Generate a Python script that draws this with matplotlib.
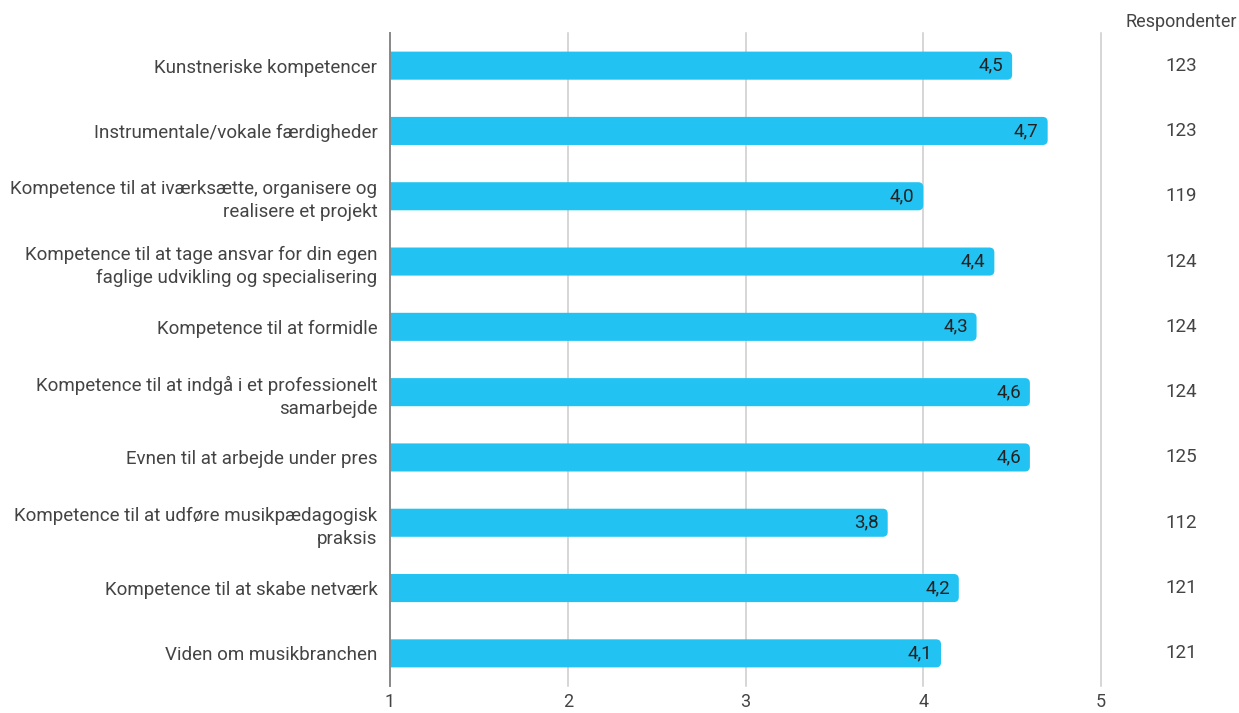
import matplotlib.pyplot as plt
from matplotlib.patches import FancyBboxPatch

plt.rcParams['font.family'] = ['Roboto', 'DejaVu Sans']

# Data
categories = [
    "Kunstneriske kompetencer",
    "Instrumentale/vokale færdigheder",
    "Kompetence til at iværksætte, organisere og\nrealisere et projekt",
    "Kompetence til at tage ansvar for din egen\nfaglige udvikling og specialisering",
    "Kompetence til at formidle",
    "Kompetence til at indgå i et professionelt\nsamarbejde",
    "Evnen til at arbejde under pres",
    "Kompetence til at udføre musikpædagogisk\npraksis",
    "Kompetence til at skabe netværk",
    "Viden om musikbranchen",
]
values = [4.5, 4.7, 4.0, 4.4, 4.3, 4.6, 4.6, 3.8, 4.2, 4.1]
respondents = [123, 123, 119, 124, 124, 124, 125, 112, 121, 121]
xticks = [1, 2, 3, 4, 5]

bar_col = '#22C3F2'
txt_col = '#444444'

fig = plt.figure(figsize=(12.39, 7.13), dpi=100)
ax = fig.add_axes([390/1239, 27/713, 711/1239, 653/713])

ax.set_xlim(1, 5)
ax.set_ylim(len(categories) - 0.5, -0.5)

h = 0.43
for i, (v, n) in enumerate(zip(values, respondents)):
    # rounded bar; start left of the axis so the left corners get clipped
    p = FancyBboxPatch((0.95, i - h/2), v - 0.95, h,
                       boxstyle="round,pad=0,rounding_size=0.028",
                       mutation_aspect=2.72, fc=bar_col, ec='none', zorder=3)
    ax.add_patch(p)
    ax.text(v - 0.05, i, f"{v:.1f}".replace('.', ','), ha='right', va='center',
            fontsize=13.5, color='#222222', zorder=4)
    ax.text(5.45, i, str(n), ha='center', va='center', fontsize=13.5,
            color=txt_col, clip_on=False)

ax.text(5.45, -0.5 - 0.17, "Respondenter", ha='center', va='center',
        fontsize=13, color=txt_col, clip_on=False)

for x in xticks:
    ax.axvline(x, color='#888888' if x == 1 else '#cccccc',
               lw=1.4 if x == 1 else 1.1, zorder=4 if x == 1 else 1, clip_on=False)

ax.set_xticks(xticks)
ax.set_xticklabels([str(x) for x in xticks], fontsize=13, color=txt_col)
ax.set_yticks(range(len(categories)))
ax.set_yticklabels(categories, fontsize=13.5, color=txt_col, ha='right',
                   multialignment='right', linespacing=1.35)
ax.tick_params(axis='both', length=0)
ax.tick_params(axis='y', pad=9)
ax.tick_params(axis='x', pad=5)
for s in ax.spines.values():
    s.set_visible(False)

fig.savefig('out.png', dpi=100)
